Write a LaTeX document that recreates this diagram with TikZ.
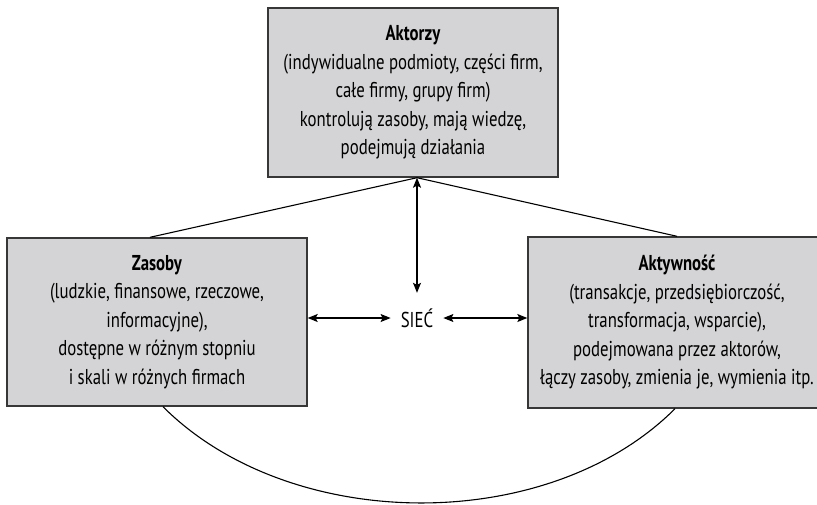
\documentclass[tikz,border=0pt]{standalone}
\usepackage{fontspec}
\setmainfont{PT Sans}[FakeStretch=0.78]
\usetikzlibrary{arrows.meta,calc}
\definecolor{boxfill}{RGB}{212,212,214}
\definecolor{boxline}{RGB}{55,55,55}
\begin{document}
\begin{tikzpicture}[x=1pt,y=-1pt,
  infobox/.style={draw=boxline,line width=1.4pt,fill=boxfill,align=center,
    inner sep=0pt,font=\fontsize{21.5}{28.5}\selectfont},
  link/.style={draw=black,line width=1.1pt},
  twoway/.style={link,{Stealth[length=10pt,width=8pt,inset=2pt]}-{Stealth[length=10pt,width=8pt,inset=2pt]}}]
\clip (0,0) rectangle (817,504);
\useasboundingbox (0,0) rectangle (817,504);

% the three boxes
\node[infobox,minimum width=290pt,minimum height=169pt] (top) at (413,92.5)
  {\textbf{Aktorzy}\\(indywidualne podmioty, części firm,\\całe firmy, grupy firm)\\kontrolują zasoby, mają wiedzę,\\podejmują działania};
\node[infobox,minimum width=300pt,minimum height=168pt] (left) at (157,322)
  {\textbf{Zasoby}\\(ludzkie, finansowe, rzeczowe,\\informacyjne),\\dostępne w różnym stopniu\\i skali w różnych firmach};
\node[infobox,minimum width=298pt,minimum height=171pt] (right) at (677,322.5)
  {\textbf{Aktywność}\\(transakcje, przedsiębiorczość,\\transformacja, wsparcie),\\podejmowana przez aktorów,\\łączy zasoby, zmienia je, wymienia itp.};

\node[font=\fontsize{21.5}{24}\selectfont,inner xsep=10pt,minimum height=50pt] (siec) at (417,318) {SIEĆ};

% lines from the actors down to both boxes
\draw[link] ([xshift=4pt]top.south) -- ([xshift=-7pt]left.north);
\draw[link] ([xshift=4pt]top.south) -- (right.north);

% arrows into the network
\draw[twoway] ([xshift=4pt]top.south) -- ([xshift=4pt]top.south |- siec.north);
\draw[twoway] (left.east |- siec) -- (siec.west);
\draw[twoway] (siec.east) -- (right.west |- siec);

% arc joining resources and activity
\draw[link] ([xshift=6pt]left.south) .. controls ($([xshift=6pt]left.south)+(127,127)$) and ($([xshift=-2pt]right.south)+(-127,127)$) .. ([xshift=-2pt]right.south);
\end{tikzpicture}
\end{document}
